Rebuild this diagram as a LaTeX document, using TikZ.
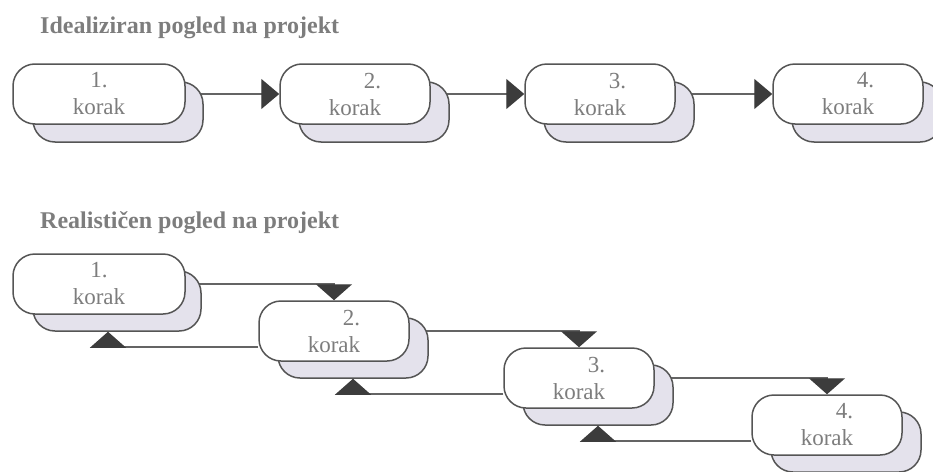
\documentclass[tikz,border=0pt]{standalone}
\usepackage{fontspec}
\setmainfont{Liberation Serif}
\usetikzlibrary{arrows.meta,backgrounds}
\definecolor{boxline}{RGB}{85,85,85}
\definecolor{boxshade}{RGB}{228,226,236}
\definecolor{wire}{RGB}{100,100,100}
\definecolor{tipgray}{RGB}{60,60,60}
\definecolor{labelgray}{RGB}{125,125,125}
\tikzset{
  stepback/.style  = {shape=rectangle, rounded corners=22pt,
                      draw=boxline, line width=1.5pt, fill=boxshade,
                      minimum width=150pt, minimum height=60pt},
  stepfront/.style = {stepback, fill=white, align=right, inner sep=1pt,
                      text=labelgray, font=\fontsize{23}{27}\selectfont},
  firststep/.style = {stepfront, align=center, minimum width=172pt},
  heading/.style   = {anchor=base west, inner sep=0pt, text=labelgray,
                      font=\fontsize{24}{27}\selectfont\bfseries},
  flow/.style      = {draw=wire, line width=1.4pt,
                      -{Triangle[length=18pt,width=30pt,color=tipgray]}},
  handover/.style  = {draw=wire, line width=1.4pt,
                      -{Triangle[length=16pt,width=36pt,color=tipgray]}}
}
\begin{document}
\begin{tikzpicture}[x=1pt, y=-1pt]
  \useasboundingbox (0,0) rectangle (933,471);

  % idealised view
  \node [heading] (ideal) at (40,33) {Idealiziran pogled na projekt};
  \node [stepback, minimum width=170pt] (i1b) at (118,112) {};
  \node [firststep] (i1) at (99,94) {1.\\korak};
  \node [stepback] (i2b) at (374,112) {};
  \node [stepfront] (i2) at (355,94) {2.\\korak};
  \node [stepback] (i3b) at (619,112) {};
  \node [stepfront] (i3) at (600,94) {3.\\korak};
  \node [stepback] (i4b) at (867,112) {};
  \node [stepfront] (i4) at (848,94) {4.\\korak};

  % realistic view
  \node [heading] (real) at (40,228) {Realističen pogled na projekt};
  \node [stepback, minimum width=168pt] (r1b) at (117,301) {};
  \node [firststep] (r1) at (99,284) {1.\\korak};
  \node [stepback] (r2b) at (353,348) {};
  \node [stepfront] (r2) at (334,331) {2.\\korak};
  \node [stepback] (r3b) at (598,395) {};
  \node [stepfront] (r3) at (579,378) {3.\\korak};
  \node [stepback] (r4b) at (846,442) {};
  \node [stepfront] (r4) at (827,425) {4.\\korak};

  \begin{scope}[on background layer]
    \draw [flow] (i1.east) -- (i2.west);
    \draw [flow] (i2.east) -- (i3.west);
    \draw [flow] (i3.east) -- (i4.west);
    % forward and back again
    \draw [handover] (r1.east) -| (r2.north);
    \draw [handover] (r2.east) -| (r3.north);
    \draw [handover] (r3.east) -| (r4.north);
    \draw [handover] ([yshift=-16pt]r2.west) -| ([xshift=-9pt]r1b.south);
    \draw [handover] ([yshift=-16pt]r3.west) -| (r2b.south);
    \draw [handover] ([yshift=-16pt]r4.west) -| (r3b.south);
  \end{scope}
\end{tikzpicture}
\end{document}
